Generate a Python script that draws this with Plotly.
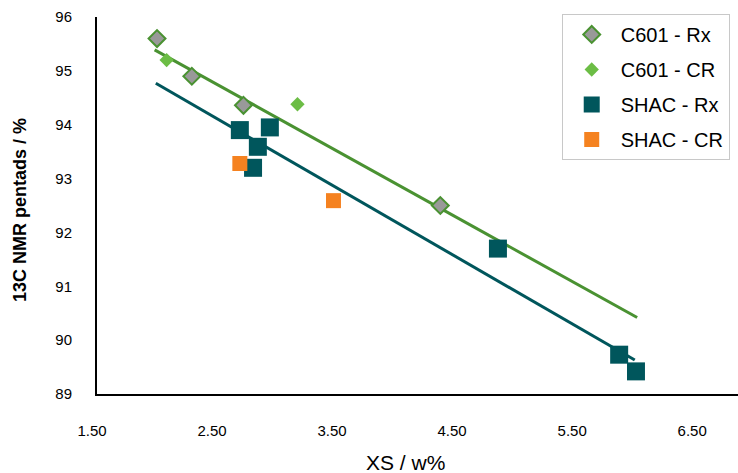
import plotly.graph_objects as go

# ---- data ----
c601_rx_x = [2.00, 2.29, 2.72, 4.36]
c601_rx_y = [95.60, 94.90, 94.36, 92.50]

c601_cr_x = [2.08, 3.17]
c601_cr_y = [95.20, 94.38]

shac_rx_x = [2.69, 2.94, 2.84, 2.80, 4.84, 5.85, 5.99]
shac_rx_y = [93.90, 93.95, 93.59, 93.20, 91.70, 89.73, 89.42]

shac_cr_x = [2.69, 3.47]
shac_cr_y = [93.28, 92.59]

c601_trend_x = [1.98, 6.00]
c601_trend_y = [95.39, 90.42]

shac_trend_x = [1.99, 5.98]
shac_trend_y = [94.77, 89.63]

x_ticks = [1.5, 2.5, 3.5, 4.5, 5.5, 6.5]
x_ticklabels = ["1.50", "2.50", "3.50", "4.50", "5.50", "6.50"]
y_ticks = [89, 90, 91, 92, 93, 94, 95, 96]

GREEN = "#4a9232"
LIGHT_GREEN = "#6cbd45"
TEAL = "#00565c"
ORANGE = "#f58220"
GRAY = "#999999"
FONT = "Liberation Sans, Arial, sans-serif"

fig = go.Figure()

fig.add_trace(go.Scatter(x=c601_trend_x, y=c601_trend_y, mode="lines",
                         line=dict(color=GREEN, width=3), showlegend=False, hoverinfo="skip"))
fig.add_trace(go.Scatter(x=shac_trend_x, y=shac_trend_y, mode="lines",
                         line=dict(color=TEAL, width=3), showlegend=False, hoverinfo="skip"))

fig.add_trace(go.Scatter(x=c601_rx_x, y=c601_rx_y, mode="markers", name="C601 - Rx",
                         legendgroup="a",
                         marker=dict(symbol="diamond", size=13, color=GRAY,
                                     line=dict(color=GREEN, width=2))))
fig.add_trace(go.Scatter(x=c601_cr_x, y=c601_cr_y, mode="markers", name="C601 - CR",
                         legendgroup="b",
                         marker=dict(symbol="diamond", size=11, color=LIGHT_GREEN,
                                     line=dict(width=0))))
fig.add_trace(go.Scatter(x=shac_rx_x, y=shac_rx_y, mode="markers", name="SHAC - Rx",
                         legendgroup="c",
                         marker=dict(symbol="square", size=18, color=TEAL,
                                     line=dict(width=0))))
fig.add_trace(go.Scatter(x=shac_cr_x, y=shac_cr_y, mode="markers", name="SHAC - CR",
                         legendgroup="d",
                         marker=dict(symbol="square", size=15, color=ORANGE,
                                     line=dict(width=0))))

fig.update_layout(
    width=738, height=473,
    margin=dict(l=97, r=0, t=17, b=79),
    paper_bgcolor="white", plot_bgcolor="white",
    font=dict(family=FONT, color="#000000", size=15),
    legend=dict(x=0.725, y=1.008, xanchor="left", yanchor="top",
                bordercolor="#c8c8c8", borderwidth=1, bgcolor="white",
                font=dict(size=20, family=FONT), tracegroupgap=6,
                itemwidth=48),
    xaxis=dict(range=[1.5, 6.84], tickvals=x_ticks, ticktext=x_ticklabels,
               showgrid=False, zeroline=False, showline=True,
               linecolor="#000000", linewidth=2, ticks="",
               ticklabelstandoff=22, ticklabelshift=-5, tickfont=dict(size=15)),
    yaxis=dict(range=[89, 96], tickvals=y_ticks, showgrid=False, zeroline=False,
               showline=True, linecolor="#000000", linewidth=2, ticks="",
               ticklabelstandoff=20, tickfont=dict(size=15)),
    annotations=[
        dict(text="XS / w%", x=405, y=462, xref="paper", yref="paper",
             showarrow=False, font=dict(size=21, family=FONT)),
        dict(text="<b>13C NMR pentads / %</b>", x=20, y=210, xref="paper", yref="paper",
             showarrow=False, textangle=-90, font=dict(size=18, family=FONT)),
    ],
)

# convert annotation pixel positions to paper coords
pw = 738 - 97 - 0
ph = 473 - 17 - 79
new_anns = []
for a in list(fig.layout.annotations):
    px, py = a.x, a.y
    a.x = (px - 97) / pw
    a.y = (473 - 79 - py) / ph
    a.xanchor = "center"
    a.yanchor = "middle"
    new_anns.append(a)
fig.layout.annotations = new_anns

fig.write_html("out.html")
